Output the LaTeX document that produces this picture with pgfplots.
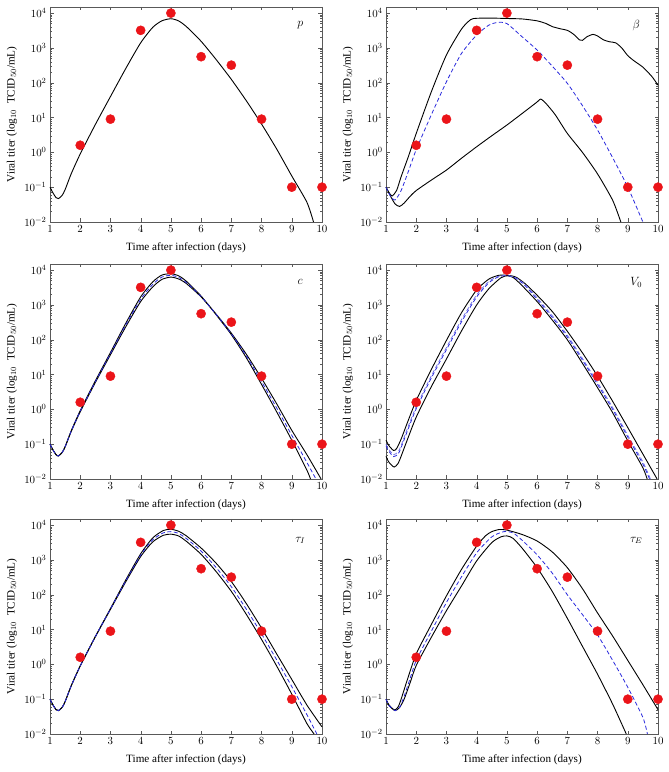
\documentclass[border=0pt]{standalone}
\usepackage{pgfplots}
\pgfplotsset{compat=1.18}
\usepackage{fontspec}
\setmainfont{Liberation Serif}
\definecolor{dotred}{RGB}{235,20,25}
\definecolor{dashblue}{RGB}{40,40,220}
\pgfplotsset{
  every axis/.append style={
    scale only axis, width=272bp, height=215bp,
    xmin=1, xmax=10, ymin=1e-2, ymax=1.5e4,
    xtick={1,2,3,4,5,6,7,8,9,10},
    minor ytick={0.02,0.03,0.04,0.05,0.06,0.07,0.08,0.09,0.2,0.3,0.4,0.5,0.6,0.7,0.8,0.9,2,3,4,5,6,7,8,9,20,30,40,50,60,70,80,90,200,300,400,500,600,700,800,900,2000,3000,4000,5000,6000,7000,8000,9000},
    axis line style={black!65}, tick style={black!65},
    major tick length=3.5bp, minor tick length=2bp,
    tick label style={font=\fontsize{11}{12}\selectfont},
    label style={font=\fontsize{11.2}{12}\selectfont},
    xlabel={Time after infection (days)},
    ylabel={Viral titer (log$_{10}$\ \ TCID$_{50}$/mL)},
    clip=false,
  },
  every axis x label/.style={at={(axis description cs:0.5,-0.118)}, anchor=center},
  every axis y label/.style={at={(axis description cs:-0.14,0.5)}, rotate=90, anchor=center},
}
\begin{document}
\begin{tikzpicture}[x=1bp,y=1bp]
\path[use as bounding box] (0,0) rectangle (669,772);
% ---------- p ----------
\begin{semilogyaxis}[at={(50bp,550bp)}, anchor=south west]
\addplot[black, line width=0.9bp, smooth, tension=0.4, no marks] coordinates {(1,0.1)(1.1,0.068)(1.2,0.05)(1.28,0.047)(1.4,0.058)(1.5,0.085)(1.7,0.24)(2,0.9)(2.5,6.3)(3,40)(3.5,250)(4,1400)(4.4,3900)(4.7,6000)(5,6900)(5.25,6000)(5.5,4200)(6,1550)(6.5,460)(7,125)(7.5,30)(8,6.5)(8.5,1.25)(9,0.21)(9.5,0.037)(9.72,0.01)};
\addplot[only marks, mark=*, mark size=4.6bp, draw=dotred, fill=dotred] coordinates {(2,1.6)(3,9)(4,3200)(5,10000)(6,560)(7,320)(8,9)(9,0.1)(10,0.1)};
\node[font=\fontsize{12}{12}\selectfont] at (rel axis cs:0.92,0.915) {$p$};
\end{semilogyaxis}
% ---------- beta ----------
\begin{semilogyaxis}[at={(386bp,550bp)}, anchor=south west]
\addplot[black, line width=0.9bp, smooth, tension=0.4, no marks] coordinates {(1,0.1)(1.1,0.07)(1.2,0.056)(1.35,0.08)(1.5,0.2)(1.75,0.8)(2,3.5)(2.5,55)(3,630)(3.5,3500)(3.8,6500)(4,7100)(4.5,7200)(5,7000)(5.5,6800)(6,6000)(6.3,5000)(6.5,4100)(6.8,3500)(7,3200)(7.2,2500)(7.4,1700)(7.5,1650)(7.65,2100)(7.85,2450)(8,2200)(8.2,1700)(8.4,1500)(8.6,1400)(8.8,1000)(9,600)(9.2,430)(9.5,280)(9.8,150)(10,85)};
\addplot[black, line width=0.9bp, smooth, tension=0.4, no marks] coordinates {(1,0.1)(1.15,0.055)(1.3,0.033)(1.45,0.028)(1.6,0.035)(1.8,0.055)(2,0.08)(2.5,0.16)(3,0.31)(3.5,0.68)(4,1.45)(4.5,3.0)(5,6.1)(5.5,13)(6,28)(6.12,34)(6.3,25)(6.6,12)(7,3.5)(7.5,1.0)(8,0.24)(8.5,0.042)(8.77,0.01)};
\addplot[dashblue, line width=0.8bp, dash pattern=on 4bp off 2.5bp, smooth, tension=0.4, no marks] coordinates {(1,0.1)(1.15,0.055)(1.3,0.043)(1.5,0.08)(1.75,0.3)(2,1.2)(2.5,12)(3,107)(3.5,700)(4,2350)(4.4,4500)(4.7,5400)(5,5000)(5.5,2100)(6,870)(6.5,300)(7,96)(7.5,22)(8,4.4)(8.5,0.7)(9,0.1)(9.5,0.01)};
\addplot[only marks, mark=*, mark size=4.6bp, draw=dotred, fill=dotred] coordinates {(2,1.6)(3,9)(4,3200)(5,10000)(6,560)(7,320)(8,9)(9,0.1)(10,0.1)};
\node[font=\fontsize{12}{12}\selectfont] at (rel axis cs:0.92,0.915) {$\beta$};
\end{semilogyaxis}
% ---------- c ----------
\begin{semilogyaxis}[at={(50bp,293bp)}, anchor=south west]
\addplot[black, line width=0.9bp, smooth, tension=0.4, no marks] coordinates {(1,0.1)(1.1,0.068)(1.2,0.05)(1.28,0.046)(1.4,0.058)(1.5,0.085)(1.7,0.24)(2,0.92)(2.5,6.6)(3,43)(3.5,290)(4,1700)(4.4,4600)(4.7,7200)(5,7900)(5.25,6900)(5.5,4900)(6,1800)(6.5,520)(7,140)(7.5,30)(8,5.2)(8.5,0.85)(9,0.13)(9.5,0.018)(9.62,0.01)};
\addplot[black, line width=0.9bp, smooth, tension=0.4, no marks] coordinates {(1,0.1)(1.1,0.068)(1.2,0.05)(1.28,0.046)(1.4,0.057)(1.5,0.083)(1.7,0.23)(2,0.85)(2.5,5.9)(3,37)(3.5,230)(4,1250)(4.4,3300)(4.7,5400)(5,6300)(5.25,5600)(5.5,4200)(6,1700)(6.5,540)(7,155)(7.5,38)(8,7.8)(8.5,1.45)(9,0.25)(9.5,0.05)(9.97,0.01)};
\addplot[dashblue, line width=0.8bp, dash pattern=on 4bp off 2.5bp, smooth, tension=0.4, no marks] coordinates {(1,0.1)(1.1,0.068)(1.2,0.05)(1.28,0.046)(1.4,0.058)(1.5,0.084)(1.7,0.235)(2,0.88)(2.5,6.2)(3,40)(3.5,260)(4,1450)(4.4,3900)(4.7,6300)(5,7100)(5.25,6200)(5.5,4500)(6,1750)(6.5,530)(7,148)(7.5,34)(8,6.3)(8.5,1.1)(9,0.18)(9.5,0.03)(9.8,0.01)};
\addplot[only marks, mark=*, mark size=4.6bp, draw=dotred, fill=dotred] coordinates {(2,1.6)(3,9)(4,3200)(5,10000)(6,560)(7,320)(8,9)(9,0.1)(10,0.1)};
\node[font=\fontsize{12}{12}\selectfont] at (rel axis cs:0.92,0.915) {$c$};
\end{semilogyaxis}
% ---------- V0 ----------
\begin{semilogyaxis}[at={(386bp,293bp)}, anchor=south west]
\addplot[black, line width=0.9bp, smooth, tension=0.4, no marks] coordinates {(1,0.13)(1.1,0.09)(1.25,0.066)(1.35,0.075)(1.5,0.14)(1.7,0.4)(2,1.8)(2.5,14)(3,96)(3.5,600)(4,2700)(4.4,5500)(4.7,7000)(4.9,7200)(5.2,6200)(5.5,3600)(6,1250)(6.5,370)(7,100)(7.5,21)(8,4.2)(8.5,0.8)(9,0.125)(9.5,0.021)(9.64,0.01)};
\addplot[black, line width=0.9bp, smooth, tension=0.4, no marks] coordinates {(1,0.045)(1.1,0.03)(1.27,0.022)(1.4,0.028)(1.5,0.045)(1.7,0.13)(2,0.6)(2.5,4.5)(3,28)(3.5,180)(4,1000)(4.4,2900)(4.8,6000)(5.05,7000)(5.3,6300)(5.6,4100)(6,1900)(6.5,650)(7,175)(7.5,42)(8,9)(8.5,1.7)(9,0.3)(9.5,0.052)(9.97,0.01)};
\addplot[dashblue, line width=0.8bp, dash pattern=on 4bp off 2.5bp, smooth, tension=0.4, no marks] coordinates {(1,0.09)(1.1,0.062)(1.25,0.044)(1.4,0.052)(1.5,0.08)(1.7,0.23)(2,1.05)(2.5,8)(3,52)(3.5,330)(4,1700)(4.4,4300)(4.7,6300)(5,7000)(5.3,5800)(5.6,3600)(6,1450)(6.5,440)(7,120)(7.5,26)(8,5.2)(8.5,1.0)(9,0.16)(9.5,0.027)(9.72,0.01)};
\addplot[dashblue!70, line width=0.7bp, dash pattern=on 4bp off 2.5bp, smooth, tension=0.4, no marks] coordinates {(1,0.1)(1.1,0.07)(1.25,0.05)(1.4,0.06)(1.5,0.092)(1.7,0.27)(2,1.2)(2.5,9.2)(3,60)(3.5,380)(4,1950)(4.4,4700)(4.7,6600)(5,7100)(5.3,6000)(5.6,3900)(6,1600)(6.5,490)(7,135)(7.5,29)(8,5.9)(8.5,1.13)(9,0.18)(9.5,0.031)(9.75,0.01)};
\addplot[only marks, mark=*, mark size=4.6bp, draw=dotred, fill=dotred] coordinates {(2,1.6)(3,9)(4,3200)(5,10000)(6,560)(7,320)(8,9)(9,0.1)(10,0.1)};
\node[font=\fontsize{12}{12}\selectfont] at (rel axis cs:0.92,0.915) {$V_0$};
\end{semilogyaxis}
% ---------- tau_I ----------
\begin{semilogyaxis}[at={(50bp,38bp)}, anchor=south west]
\addplot[black, line width=0.9bp, smooth, tension=0.4, no marks] coordinates {(1,0.1)(1.1,0.068)(1.2,0.05)(1.28,0.047)(1.4,0.058)(1.5,0.085)(1.7,0.24)(2,0.9)(2.5,6.3)(3,40)(3.5,260)(4,1500)(4.4,4300)(4.75,7000)(5,7600)(5.25,6700)(5.5,5000)(6,2200)(6.5,800)(7,240)(7.5,55)(8,11)(8.5,2.0)(9,0.37)(9.5,0.068)(10,0.016)};
\addplot[black, line width=0.9bp, smooth, tension=0.4, no marks] coordinates {(1,0.1)(1.1,0.068)(1.2,0.05)(1.28,0.047)(1.4,0.058)(1.5,0.085)(1.7,0.24)(2,0.9)(2.5,6.2)(3,38)(3.5,230)(4,1250)(4.4,3300)(4.75,5100)(5,5500)(5.25,4900)(5.5,3500)(6,1450)(6.5,460)(7,125)(7.5,27)(8,5.2)(8.5,0.9)(9,0.14)(9.5,0.02)(9.74,0.01)};
\addplot[dashblue, line width=0.8bp, dash pattern=on 4bp off 2.5bp, smooth, tension=0.4, no marks] coordinates {(1,0.1)(1.1,0.068)(1.2,0.05)(1.28,0.047)(1.4,0.058)(1.5,0.085)(1.7,0.24)(2,0.9)(2.5,6.25)(3,39)(3.5,245)(4,1380)(4.4,3800)(4.75,6000)(5,6500)(5.25,5800)(5.5,4200)(6,1800)(6.5,600)(7,170)(7.5,38)(8,7.5)(8.5,1.35)(9,0.23)(9.5,0.036)(9.83,0.01)};
\addplot[only marks, mark=*, mark size=4.6bp, draw=dotred, fill=dotred] coordinates {(2,1.6)(3,9)(4,3200)(5,10000)(6,560)(7,320)(8,9)(9,0.1)(10,0.1)};
\node[font=\fontsize{12}{12}\selectfont] at (rel axis cs:0.92,0.9) {$\tau_I$};
\end{semilogyaxis}
% ---------- tau_E ----------
\begin{semilogyaxis}[at={(386bp,38bp)}, anchor=south west]
\addplot[black, line width=0.9bp, smooth, tension=0.4, no marks] coordinates {(1,0.1)(1.1,0.068)(1.28,0.049)(1.4,0.06)(1.5,0.1)(1.7,0.35)(2,2)(2.5,14)(3,93)(3.5,540)(4,2500)(4.3,5000)(4.5,6500)(4.75,7500)(5,7200)(5.5,5400)(6,3500)(6.5,1700)(7,600)(7.5,150)(8,30)(8.5,6.5)(9,1.3)(9.5,0.26)(10,0.05)};
\addplot[black, line width=0.9bp, smooth, tension=0.4, no marks] coordinates {(1,0.1)(1.1,0.066)(1.3,0.047)(1.45,0.058)(1.6,0.1)(1.8,0.3)(2,0.93)(2.5,6)(3,35)(3.5,180)(4,940)(4.5,3150)(4.8,4600)(5,4900)(5.2,4200)(5.5,2200)(6,600)(6.5,125)(7,21)(7.5,3.3)(8,0.52)(8.5,0.072)(8.95,0.01)};
\addplot[dashblue, line width=0.8bp, dash pattern=on 4bp off 2.5bp, smooth, tension=0.4, no marks] coordinates {(1,0.1)(1.1,0.066)(1.3,0.047)(1.45,0.058)(1.6,0.12)(1.8,0.4)(2,1.3)(2.5,9)(3,60)(3.5,330)(4,1600)(4.5,4600)(4.9,6500)(5.2,6000)(5.5,3700)(6,1400)(6.5,420)(7,100)(7.5,27)(8,7)(8.5,1.3)(9,0.22)(9.5,0.03)(9.65,0.01)};
\addplot[only marks, mark=*, mark size=4.6bp, draw=dotred, fill=dotred] coordinates {(2,1.6)(3,9)(4,3200)(5,10000)(6,560)(7,320)(8,9)(9,0.1)(10,0.1)};
\node[font=\fontsize{12}{12}\selectfont] at (rel axis cs:0.92,0.9) {$\tau_E$};
\end{semilogyaxis}
\end{tikzpicture}
\end{document}
